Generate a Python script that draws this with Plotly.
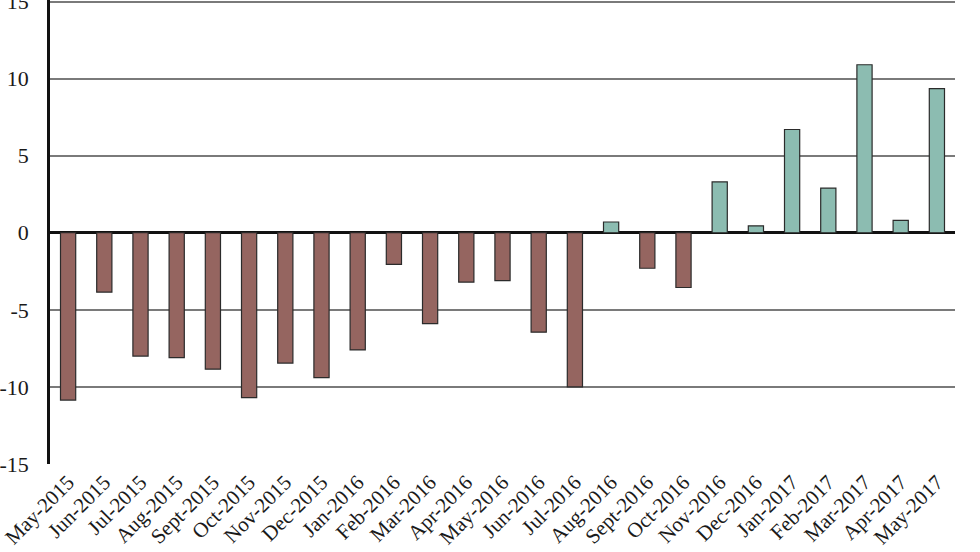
import plotly.graph_objects as go

months = ["May-2015", "Jun-2015", "Jul-2015", "Aug-2015", "Sept-2015", "Oct-2015",
          "Nov-2015", "Dec-2015", "Jan-2016", "Feb-2016", "Mar-2016", "Apr-2016",
          "May-2016", "Jun-2016", "Jul-2016", "Aug-2016", "Sept-2016", "Oct-2016",
          "Nov-2016", "Dec-2016", "Jan-2017", "Feb-2017", "Mar-2017", "Apr-2017",
          "May-2017"]
values = [-10.85, -3.85, -8.0, -8.1, -8.85, -10.7,
          -8.45, -9.4, -7.6, -2.05, -5.9, -3.2,
          -3.1, -6.45, -10.0, 0.7, -2.3, -3.55,
          3.3, 0.45, 6.7, 2.9, 10.9, 0.8,
          9.35]
y_ticks = [-15, -10, -5, 0, 5, 10, 15]

neg_color = "#956560"
pos_color = "#8cbcb1"
colors = [pos_color if v >= 0 else neg_color for v in values]

fig = go.Figure(go.Bar(
    x=months, y=values,
    marker=dict(color=colors, line=dict(color="#2b2b2b", width=1.2)),
    width=0.42,
))

font = dict(family="Liberation Serif, Times New Roman, serif", size=21, color="#1a1a1a")
fig.update_layout(
    width=980, height=552,
    margin=dict(l=50, r=25, t=0, b=88),
    plot_bgcolor="white", paper_bgcolor="white",
    showlegend=False,
    font=font,
)
fig.update_xaxes(
    tickangle=-45, tickfont=dict(size=21), showgrid=False,
    showline=False, ticks="", range=[-0.5, len(months) - 0.5],
    automargin=False, ticklabeloverflow="allow", ticklabelstandoff=1,
)
fig.update_yaxes(
    range=[-15, 15.1], tickvals=y_ticks, ticktext=[str(t) for t in y_ticks],
    showgrid=True, gridcolor="#7a7a7a", gridwidth=1.5,
    zeroline=True, zerolinecolor="#111", zerolinewidth=2.5,
    showline=True, linecolor="#111", linewidth=2.5,
    ticks="", tickfont=dict(size=22), ticklabelstandoff=14,
    automargin=False, ticklabeloverflow="allow",
)

fig.write_html("out.html", config={"displayModeBar": False},
               post_script="document.body.style.margin='0';")
